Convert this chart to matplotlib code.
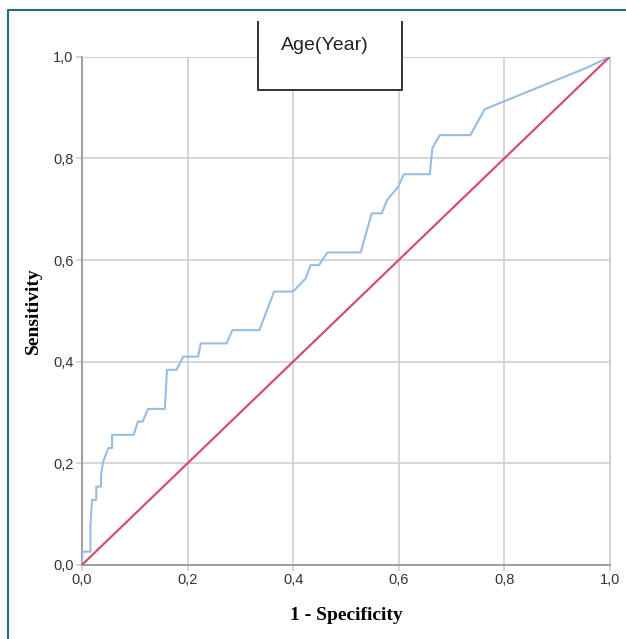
import matplotlib.pyplot as plt
from matplotlib.lines import Line2D
from matplotlib.patches import Rectangle
from matplotlib.ticker import FuncFormatter

# ROC curve (1 - specificity, sensitivity)
fpr = [0.0, 0.001, 0.016, 0.016, 0.019, 0.027, 0.027, 0.036, 0.036, 0.040,
       0.050, 0.057, 0.057, 0.098, 0.106, 0.115, 0.125, 0.157, 0.161, 0.179,
       0.192, 0.220, 0.225, 0.274, 0.285, 0.336, 0.364, 0.400, 0.424, 0.433,
       0.449, 0.465, 0.528, 0.549, 0.568, 0.578, 0.599, 0.610, 0.659, 0.664,
       0.678, 0.736, 0.763, 0.955, 1.0]
tpr = [0.0, 0.026, 0.026, 0.077, 0.128, 0.128, 0.154, 0.154, 0.177, 0.203,
       0.230, 0.230, 0.256, 0.256, 0.282, 0.282, 0.307, 0.307, 0.384, 0.384,
       0.410, 0.410, 0.436, 0.436, 0.462, 0.462, 0.538, 0.538, 0.564, 0.590,
       0.590, 0.615, 0.615, 0.692, 0.692, 0.718, 0.744, 0.769, 0.769, 0.821,
       0.846, 0.846, 0.897, 0.978, 1.0]
ref_line = [0.0, 1.0]
ticks = [0.0, 0.2, 0.4, 0.6, 0.8, 1.0]

fig = plt.figure(figsize=(6.26, 6.39), dpi=100)
ax = fig.add_axes([0.131, 0.116, 0.843, 0.795])

ax.plot(fpr, tpr, color='#97bde2', lw=1.5, zorder=3)
ax.plot(ref_line, ref_line, color='#d2506f', lw=1.6, zorder=3)

ax.set_xlim(0, 1)
ax.set_ylim(0, 1)
ax.set_xticks(ticks)
ax.set_yticks(ticks)
comma = FuncFormatter(lambda v, p: ('%.1f' % v).replace('.', ','))
ax.xaxis.set_major_formatter(comma)
ax.yaxis.set_major_formatter(comma)
ax.grid(True, color='#cfcfcf', lw=1.2, zorder=0)
ax.tick_params(length=4, color='#cfcfcf', width=1.2, labelsize=10.5,
               labelcolor='#333333', pad=2)
for lab in ax.get_xticklabels() + ax.get_yticklabels():
    lab.set_fontfamily('Liberation Sans')
for s in ['top', 'right']:
    ax.spines[s].set_color('#d0d0d0')
for s in ['left', 'bottom']:
    ax.spines[s].set_color('#9a9a9a')
    ax.spines[s].set_linewidth(1.3)

ax.set_xlabel('1 - Specificity', fontfamily='Liberation Serif', fontweight='bold',
              fontsize=14, labelpad=14)
ax.set_ylabel('Sensitivity', fontfamily='Liberation Serif', fontweight='bold',
              fontsize=14, labelpad=8)

# title box (white, open at the top)
W, H = 626.0, 639.0
bx0, bx1, by0, by1 = 258 / W, 402 / W, 1 - 22 / H, 1 - 90 / H
fig.add_artist(Rectangle((bx0, by1), bx1 - bx0, by0 - by1, facecolor='white',
                         edgecolor='none', transform=fig.transFigure, zorder=4))
fig.add_artist(Line2D([bx0, bx0, bx1, bx1], [by0, by1, by1, by0],
                      color='#333333', lw=1.4, transform=fig.transFigure, zorder=5))
fig.text(325 / W, 1 - 46 / H, 'Age(Year)', ha='center', va='center',
         fontsize=14, fontfamily='Liberation Sans', color='#222222', zorder=6)

# teal frame on top and left
fig.add_artist(Line2D([8 / W, 8 / W, 1.0], [0.0, 1 - 10 / H, 1 - 10 / H],
                      color='#1f6e76', lw=1.5, transform=fig.transFigure))

fig.savefig('out.png', dpi=100)
